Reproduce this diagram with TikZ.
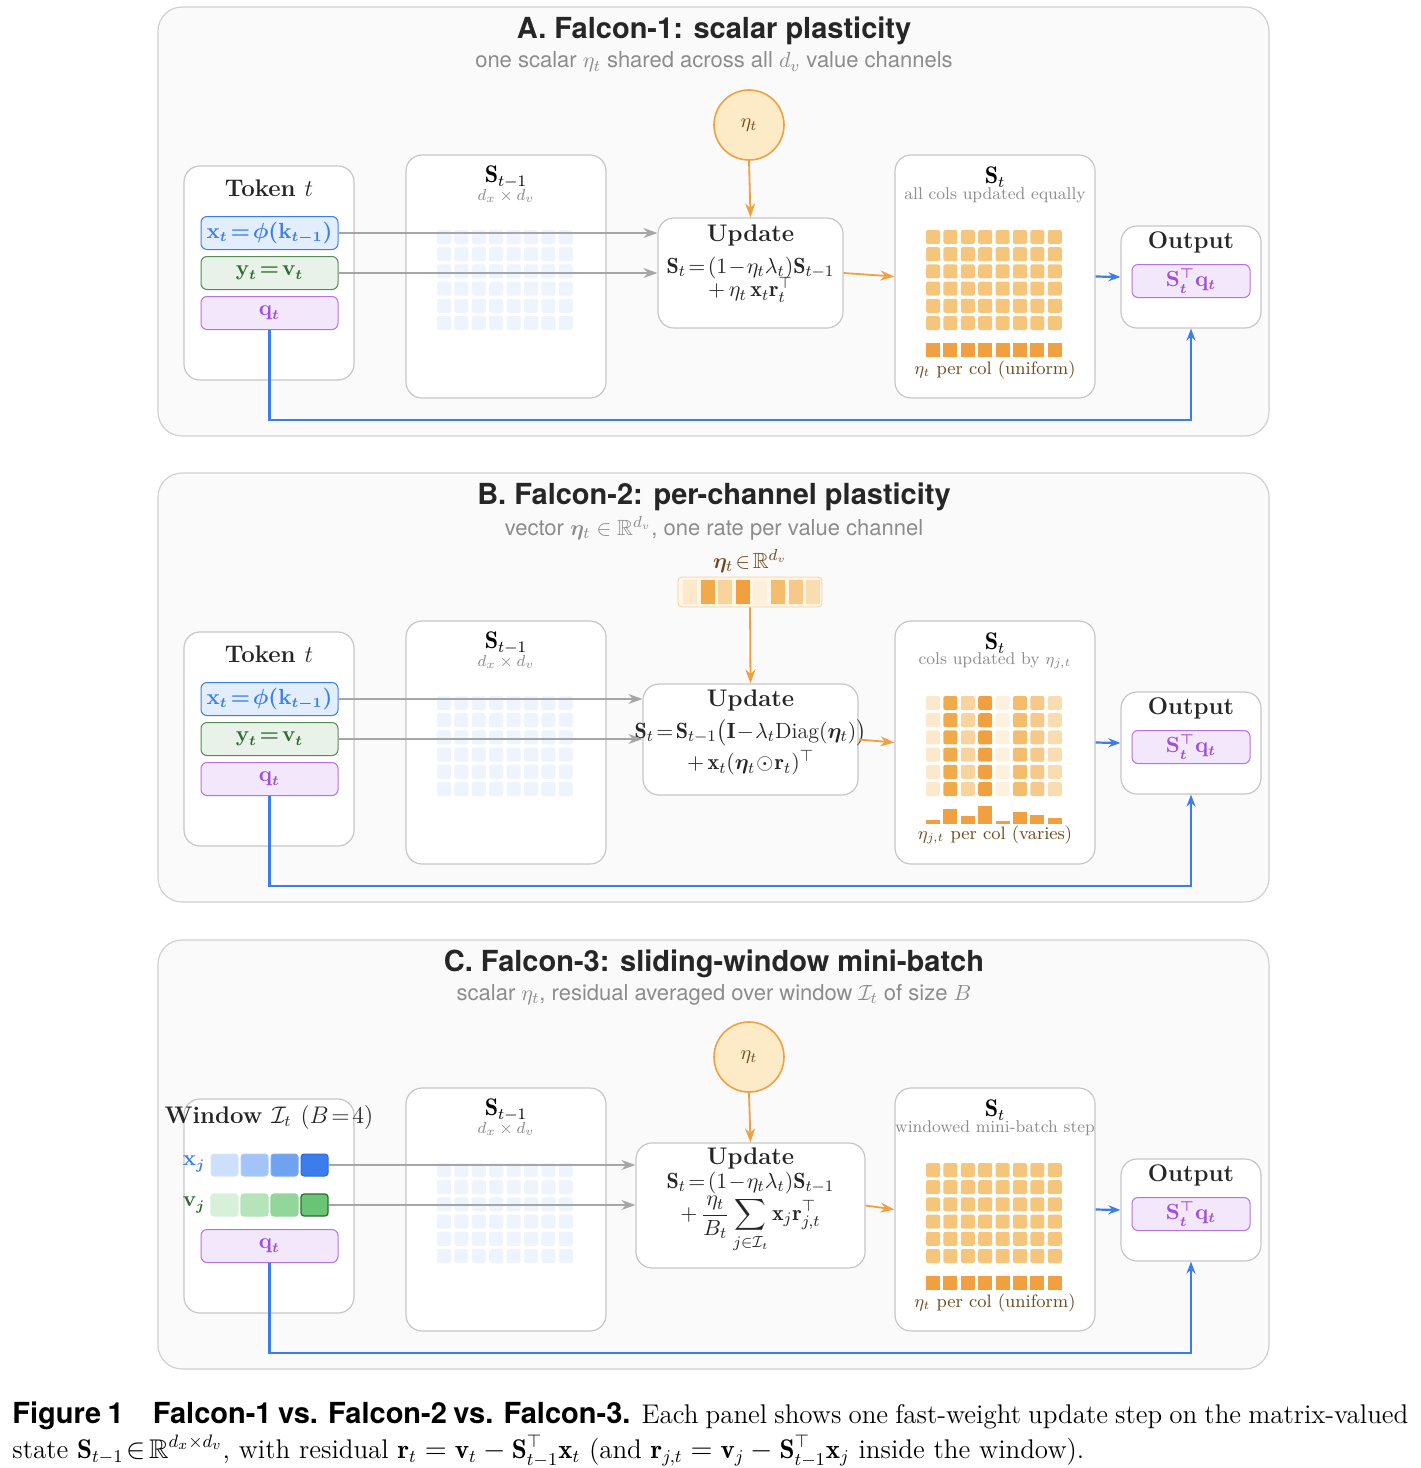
\documentclass[tikz,border=0pt]{standalone}
\usepackage{amsmath,amssymb}
\usepackage{bm}
\usepackage{fontspec}
\newfontfamily\heros{TeX Gyre Heros}
\usetikzlibrary{arrows.meta}

\definecolor{pblue}{HTML}{3B7DED}
\definecolor{pbluefill}{HTML}{E3EEFC}
\definecolor{pgreen}{HTML}{2E6B30}
\definecolor{pgreenfill}{HTML}{E8F2E8}
\definecolor{ppurple}{HTML}{A050D8}
\definecolor{ppurplefill}{HTML}{F3E8FB}
\definecolor{porange}{HTML}{F0A040}
\definecolor{porangefill}{HTML}{FDEBC8}
\definecolor{pbrown}{HTML}{6B4A1E}
\definecolor{gridblue}{HTML}{EEF4FD}
\definecolor{cellorange}{HTML}{F6C57C}
\definecolor{bararange}{HTML}{F0A040}

\tikzset{
  panelbox/.style={draw=black!18, fill=black!2, rounded corners=12pt, line width=0.6pt},
  card/.style={draw=black!22, fill=white, rounded corners=8pt, line width=0.6pt},
  chip/.style={rounded corners=3pt, line width=0.5pt, minimum width=68.5pt, minimum height=16.5pt, inner sep=0pt},
  xchip/.style={chip, draw=pblue, fill=pbluefill, text=pblue},
  ychip/.style={chip, draw=pgreen!80, fill=pgreenfill, text=pgreen},
  qchip/.style={chip, draw=ppurple!80, fill=ppurplefill, text=ppurple},
  chipfont/.style={font=\boldmath\bfseries\fontsize{10.5}{12}\selectfont},
  titlefont/.style={font=\heros\bfseries\fontsize{14.5}{16}\selectfont, text=black!85},
  subfont/.style={font=\heros\fontsize{11}{13}\selectfont, text=black!45},
  headfont/.style={font=\bfseries\fontsize{12}{14}\selectfont, text=black!85},
  eqfont/.style={font=\fontsize{11}{13}\selectfont, text=black!85},
  smallgray/.style={font=\fontsize{8.5}{9}\selectfont, text=black!45},
  barlabel/.style={font=\fontsize{9}{10}\selectfont, text=pbrown},
  grayarrow/.style={draw=black!35, line width=0.8pt, -{Stealth[length=7pt,width=5pt]}},
  orangearrow/.style={draw=porange, line width=0.9pt, -{Stealth[length=7pt,width=5pt]}},
  bluearrow/.style={draw=pblue, line width=1.1pt, -{Stealth[length=6pt,width=4.5pt]}},
}

% parts that every panel shares
\newcommand{\panelbase}[4]{%
  \node[panelbox, minimum width=555.5pt, minimum height=214.5pt] (#1frame) at (713.5,221.5) {};
  \node[titlefont] (#1title) at (714,31) {#2};
  \node[subfont] (#1sub) at (714,62) {#3};
  \node[card, minimum width=85pt, minimum height=107pt] (#1tok) at (269,273) {};
  \node[qchip, chipfont] (#1q) at (269.5,313) {$\mathbf{q}_t$};
  \node[card, minimum width=100pt, minimum height=121.5pt] (#1prev) at (506,276.5) {};
  \node[font=\fontsize{12}{14}\selectfont] (#1prevlbl) at (506,177) {$\mathbf{S}_{t-1}$};
  \node[smallgray] (#1prevdim) at (506,196) {$d_x\times d_v$};
  \foreach \i in {0,...,7} \foreach \j in {0,...,5}
    \fill[gridblue, rounded corners=1pt] ({437+17.4*\i},{230+17.2*\j}) rectangle +(14,14);
  \node[card, minimum width=100pt, minimum height=121.5pt] (#1st) at (995,276.5) {};
  \node[font=\fontsize{12}{14}\selectfont] (#1stlbl) at (995,177) {$\mathbf{S}_t$};
  \node[smallgray] (#1stsub) at (995,195) {#4};
  \node[card, minimum width=70pt, minimum height=51pt] (#1outbox) at (1191,277) {};
  \node[headfont] (#1outlbl) at (1191,242) {Output};
  \node[qchip, minimum width=59pt, chipfont] (#1out) at (1191,281) {$\mathbf{S}_t^{\top}\mathbf{q}_t$};
  \draw[bluearrow] (#1st.east) -- (#1outbox.west);
  \draw[bluearrow] (#1q.south) -- ++(0,90) -| (#1outbox.south);
}

\begin{document}
\begin{tikzpicture}[x=0.5pt,y=-0.5pt]
  \useasboundingbox (0,0) rectangle (1420,1468);

  % panel A
  \panelbase{a}{A. Falcon-1: scalar plasticity}{one scalar $\eta_t$ shared across all $d_v$ value channels}{all cols updated equally}
  \node[headfont] (atoklbl) at (269,188) {Token $t$};
  \node[xchip, chipfont] (ax) at (269.5,233) {$\mathbf{x}_t\!=\!\phi(\mathbf{k}_{t-1})$};
  \node[ychip, chipfont] (ay) at (269.5,273) {$\mathbf{y}_t\!=\!\mathbf{v}_t$};
  \node[circle, draw=porange, fill=porangefill, line width=0.8pt, minimum size=35pt, text=pbrown] (aeta) at (749,125) {$\eta_t$};
  \node[card, minimum width=92.5pt, minimum height=55pt] (aup) at (750.5,273) {};
  \node[headfont] (auplbl) at (750.5,235) {Update};
  \node[eqfont] (aeq1) at (750.5,268) {$\mathbf{S}_t\!=\!(1\!-\!\eta_t\lambda_t)\mathbf{S}_{t-1}$};
  \node[eqfont] (aeq2) at (750.5,290) {$+\,\eta_t\,\mathbf{x}_t\mathbf{r}_t^{\top}$};
  \draw[orangearrow] (aeta.south) -- (aup.north);
  \draw[grayarrow] (ax.east) -- (aup.west |- ax.east);
  \draw[grayarrow] (ay.east) -- (aup.west |- ay.east);
  \draw[orangearrow] (aup.east) -- (ast.west);
  \foreach \i in {0,...,7} {
    \foreach \j in {0,...,5}
      \fill[cellorange, rounded corners=1pt] ({926+17.4*\i},{230+17.2*\j}) rectangle +(14,14);
    \fill[bararange] ({926+17.4*\i},343) rectangle +(14,14);
  }
  \node[barlabel] (abarlbl) at (995,370) {$\eta_t$ per col (uniform)};

  % panel B
  \begin{scope}[shift={(0,466)}]
  \panelbase{b}{B. Falcon-2: per-channel plasticity}{vector $\bm{\eta}_t\in\mathbb{R}^{d_v}$, one rate per value channel}{cols updated by $\eta_{j,t}$}
  \node[headfont] (btoklbl) at (269,188) {Token $t$};
  \node[xchip, chipfont] (bx) at (269.5,233) {$\mathbf{x}_t\!=\!\phi(\mathbf{k}_{t-1})$};
  \node[ychip, chipfont] (by) at (269.5,273) {$\mathbf{y}_t\!=\!\mathbf{v}_t$};
  \node[font=\fontsize{11}{13}\selectfont, text=pbrown] (betalbl) at (750,95) {$\bm{\eta}_t\!\in\!\mathbb{R}^{d_v}$};
  \node[draw=porange!50, fill=porangefill!50, rounded corners=2pt, minimum width=72pt, minimum height=15pt] (beta) at (750,126) {};
  \foreach \c [count=\i from 0] in {FCE9CC,F1AA4A,F8D39C,F0A040,FDF0DC,F4BD6C,F6C98A,F9DDB0} {
    \definecolor{cc}{HTML}{\c}
    \fill[cc] ({683+17.6*\i},114) rectangle +(14,24);
  }
  \node[card, minimum width=107.5pt, minimum height=55.5pt] (bup) at (750.5,273.5) {};
  \node[headfont] (buplbl) at (750.5,234) {Update};
  \node[eqfont] (beq1) at (750.5,267) {$\mathbf{S}_t\!=\!\mathbf{S}_{t-1}\big(\mathbf{I}\!-\!\lambda_t\mathrm{Diag}(\bm{\eta}_t)\big)$};
  \node[eqfont] (beq2) at (750.5,297) {$+\,\mathbf{x}_t(\bm{\eta}_t\!\odot\!\mathbf{r}_t)^{\top}$};
  \draw[orangearrow] (beta.south) -- (bup.north);
  \draw[grayarrow] (bx.east) -- (bup.west |- bx.east);
  \draw[grayarrow] (by.east) -- (bup.west |- by.east);
  \draw[orangearrow] (bup.east) -- (bst.west);
  \foreach \c/\h [count=\i from 0] in {FCE9CC/4,F1AA4A/15,F8D39C/8,F0A040/18,FDF0DC/3,F4BD6C/12,F6C98A/9,F9DDB0/6} {
    \definecolor{cc}{HTML}{\c}
    \foreach \j in {0,...,5}
      \fill[cc, rounded corners=1pt] ({926+17.4*\i},{230+17.2*\j}) rectangle +(14,14);
    \fill[bararange] ({926+17.4*\i},358) rectangle +(14,-\h);
  }
  \node[barlabel] (bbarlbl) at (995,369) {$\eta_{j,t}$ per col (varies)};
  \end{scope}

  % panel C
  \begin{scope}[shift={(0,933)}]
  \panelbase{c}{C. Falcon-3: sliding-window mini-batch}{scalar $\eta_t$, residual averaged over window $\mathcal{I}_t$ of size $B$}{windowed mini-batch step}
  \node[headfont] (ctoklbl) at (269,184) {Window $\mathcal{I}_t$ $(B\!=\!4)$};
  \node[chipfont, text=pblue] (cxl) at (194,231) {$\mathbf{x}_j$};
  \node[chipfont, text=pgreen] (cvl) at (194,272) {$\mathbf{v}_j$};
  \foreach \c/\d [count=\i from 0] in {CCE0FC/D8E4F5,A2C4F7/B0CCF5,6FA3F2/7FAAEF,3B7DED/2F6AD0}{
    \definecolor{cc}{HTML}{\c}\definecolor{dd}{HTML}{\d}
    \filldraw[fill=cc, draw=dd, rounded corners=1.5pt, line width=0.5pt] ({211+30*\i},221) rectangle +(27,22);
  }
  \foreach \c/\d [count=\i from 0] in {D6F0D9/D6F0D9,B5E3BA/B5E3BA,92D69B/92D69B,69C475/2E6B30}{
    \definecolor{cc}{HTML}{\c}\definecolor{dd}{HTML}{\d}
    \filldraw[fill=cc, draw=dd, rounded corners=1.5pt, line width=0.6pt] ({211+30*\i},261) rectangle +(27,22);
  }
  \coordinate (cxend) at (329,232);
  \coordinate (cvend) at (329,272);
  \node[circle, draw=porange, fill=porangefill, line width=0.8pt, minimum size=35pt, text=pbrown] (ceta) at (749,124) {$\eta_t$};
  \node[card, minimum width=114.5pt, minimum height=62.5pt] (cup) at (750.5,272.5) {};
  \node[headfont] (cuplbl) at (750.5,225) {Update};
  \node[eqfont, inner sep=1pt] (ceq1) at (750.5,250) {$\mathbf{S}_t\!=\!(1\!-\!\eta_t\lambda_t)\mathbf{S}_{t-1}$};
  \node[eqfont, inner sep=1pt, anchor=north] (ceq2) at (750.5,261) {$\displaystyle+\,\frac{\eta_t}{B_t}\sum_{j\in\mathcal{I}_t}\mathbf{x}_j\mathbf{r}_{j,t}^{\top}$};
  \draw[orangearrow] (ceta.south) -- (cup.north);
  \draw[grayarrow] (cxend) -- (cup.west |- cxend);
  \draw[grayarrow] (cvend) -- (cup.west |- cvend);
  \draw[orangearrow] (cup.east) -- (cst.west);
  \foreach \i in {0,...,7} {
    \foreach \j in {0,...,5}
      \fill[cellorange, rounded corners=1pt] ({926+17.4*\i},{230+17.2*\j}) rectangle +(14,14);
    \fill[bararange] ({926+17.4*\i},343) rectangle +(14,14);
  }
  \node[barlabel] (cbarlbl) at (995,370) {$\eta_t$ per col (uniform)};
  \end{scope}

  % caption
  \node[anchor=north west, text width=698pt, align=justify, inner sep=0pt,
        font=\fontsize{13.5}{17.5}\selectfont] (caption) at (12,1401)
    {{\heros\bfseries\fontsize{14.5}{17.5}\selectfont Figure 1\quad Falcon-1 vs. Falcon-2 vs. Falcon-3.} Each panel shows one fast-weight update step on the matrix-valued state $\mathbf{S}_{t-1}\!\in\!\mathbb{R}^{d_x\times d_v}$, with residual $\mathbf{r}_t=\mathbf{v}_t-\mathbf{S}_{t-1}^{\top}\mathbf{x}_t$ (and $\mathbf{r}_{j,t}=\mathbf{v}_j-\mathbf{S}_{t-1}^{\top}\mathbf{x}_j$ inside the window).};
\end{tikzpicture}
\end{document}
